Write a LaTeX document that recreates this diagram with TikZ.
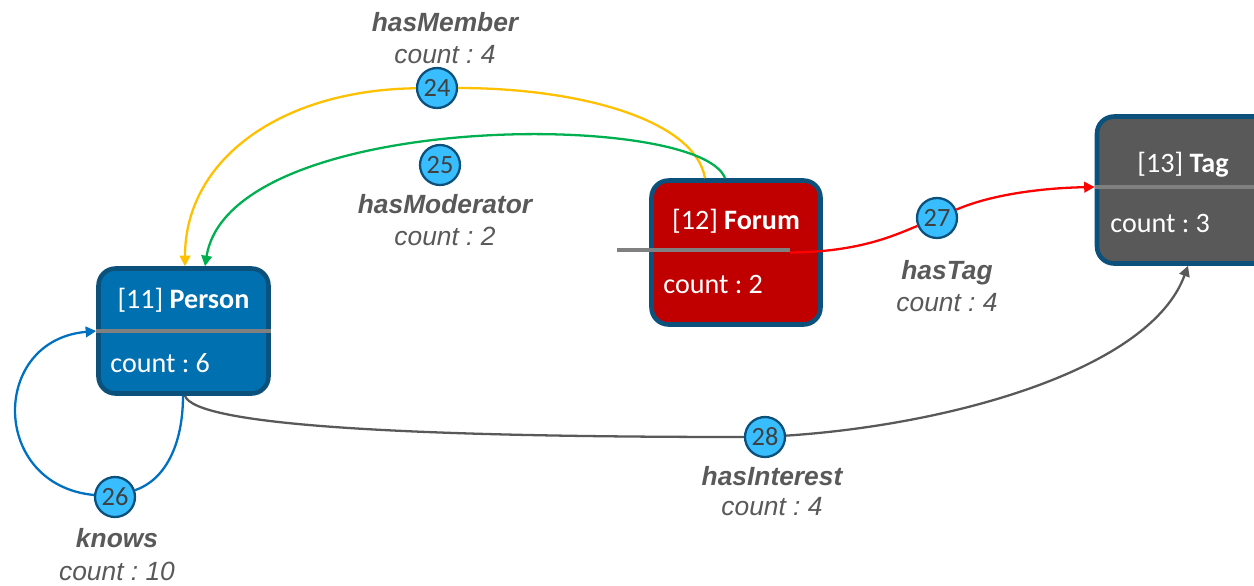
\documentclass[tikz,border=0pt]{standalone}
\usepackage{fontspec}
\setmainfont{Carlito}
\newfontfamily\relfont{Liberation Sans}
\usetikzlibrary{arrows.meta,positioning}
\frenchspacing
\definecolor{rimblue}{RGB}{12,80,124}
\definecolor{personblue}{RGB}{0,112,176}
\definecolor{forumred}{RGB}{192,0,0}
\definecolor{taggray}{RGB}{89,89,89}
\definecolor{sepgray}{RGB}{128,128,128}
\definecolor{dotblue}{RGB}{56,190,255}
\definecolor{textgray}{RGB}{89,89,89}
\definecolor{numgray}{RGB}{64,64,64}
\definecolor{memberyellow}{RGB}{255,192,0}
\definecolor{modgreen}{RGB}{0,176,80}
\definecolor{knowsblue}{RGB}{0,112,192}
\definecolor{tagred}{RGB}{255,0,0}
\definecolor{interestgray}{RGB}{89,89,89}
\tikzset{>={Triangle[length=6pt,width=6pt]}}
\tikzset{
  entity/.style={draw=rimblue, line width=2.6pt, rounded corners=0.34cm, inner sep=0pt},
  sepline/.style={draw=sepgray, line width=1.8pt},
  title/.style={text=white, font=\fontsize{16}{19}\selectfont, anchor=base},
  countlabel/.style={text=white, font=\fontsize{16}{19}\selectfont, anchor=base west, inner sep=0pt},
  relnum/.style={circle, draw=rimblue, line width=1.3pt, fill=dotblue, minimum size=0.8cm, inner sep=0pt, text=numgray, font=\fontsize{15}{17}\selectfont},
  relname/.style={text=textgray, font=\relfont\bfseries\itshape\fontsize{15}{18}\selectfont, anchor=base},
  relcount/.style={text=textgray, font=\relfont\itshape\fontsize{15}{18}\selectfont, anchor=base},
  rel/.style={line width=1.3pt, ->}
}
\begin{document}
\begin{tikzpicture}[x=0.02cm, y=-0.02cm]
    \clip (0,0) rectangle (1254,585);

    \node[entity, fill=personblue, minimum width=3.4cm, minimum height=2.5cm] (person) at (183.5,331) {};
    \node[entity, fill=forumred, minimum width=3.38cm, minimum height=2.88cm] (forum) at (736,252.5) {};
    \node[entity, fill=taggray, minimum width=3.5cm, minimum height=2.94cm] (tag) at (1184.5,190) {};

    \draw[sepline] (person.west) -- (person.east);
    \draw[sepline] ([xshift=-2.38cm,yshift=0.05cm]forum.center) -- ([xshift=1.08cm,yshift=0.05cm]forum.center);
    \draw[sepline] ([yshift=0.06cm]tag.west) -- ([yshift=0.06cm]tag.east);

    \node[title] (persontitle) at (183.5,308) {[11] \textbf{Person}};
    \node[countlabel] (personcount) at (110,372) {count : 6};
    \node[title] (forumtitle) at (736,229) {[12] \textbf{Forum}};
    \node[countlabel] (forumcount) at (663,293) {count : 2};
    \node[title] (tagtitle) at (1183,172) {[13] \textbf{Tag}};
    \node[countlabel] (tagcount) at (1110,232) {count : 3};

    \node[relnum] (n24) at (437,88) {24};
    \node[relnum] (n25) at (440,165) {25};
    \node[relnum] (n26) at (115,497) {26};
    \node[relnum] (n27) at (937,218) {27};
    \node[relnum] (n28) at (765,437) {28};

    \draw[rel, memberyellow] ([xshift=-0.62cm]forum.north) .. controls (695,120) and (580,88) .. (n24) .. controls (280,90) and (185,160) .. ([xshift=0.03cm]person.north);
    \draw[rel, modgreen] ([xshift=-0.22cm]forum.north) .. controls (700,110) and (230,110) .. ([xshift=0.43cm]person.north);
    \draw[rel, knowsblue] ([xshift=-0.01cm]person.south) .. controls (183,445) and (165,480) .. (n26) .. controls (-10,485) and (-10,340) .. (person.west);
    \draw[rel, tagred] ([xshift=1.08cm]forum.center) .. controls (860,252) and (895,235) .. (n27) .. controls (990,195) and (1040,188) .. ([yshift=0.06cm]tag.west);
    \draw[rel, interestgray] ([xshift=0.03cm]person.south) .. controls (195,425) and (400,437) .. (n28) .. controls (950,425) and (1150,370) .. ([xshift=0.07cm]tag.south);

    \node[relname] (membername) at (445,31) {hasMember};
    \node[relcount] (membercount) at (445,63) {count : 4};
    \node[relname] (modname) at (445,213) {hasModerator};
    \node[relcount] (modcount) at (445,245) {count : 2};
    \node[relname] (knowsname) at (117,547) {knows};
    \node[relcount] (knowscount) at (117,580) {count : 10};
    \node[relname] (tagname) at (947,279) {hasTag};
    \node[relcount] (tagrelcount) at (947,311) {count : 4};
    \node[relname] (interestname) at (772,485) {hasInterest};
    \node[relcount] (interestcount) at (772,515) {count : 4};
\end{tikzpicture}
\end{document}
